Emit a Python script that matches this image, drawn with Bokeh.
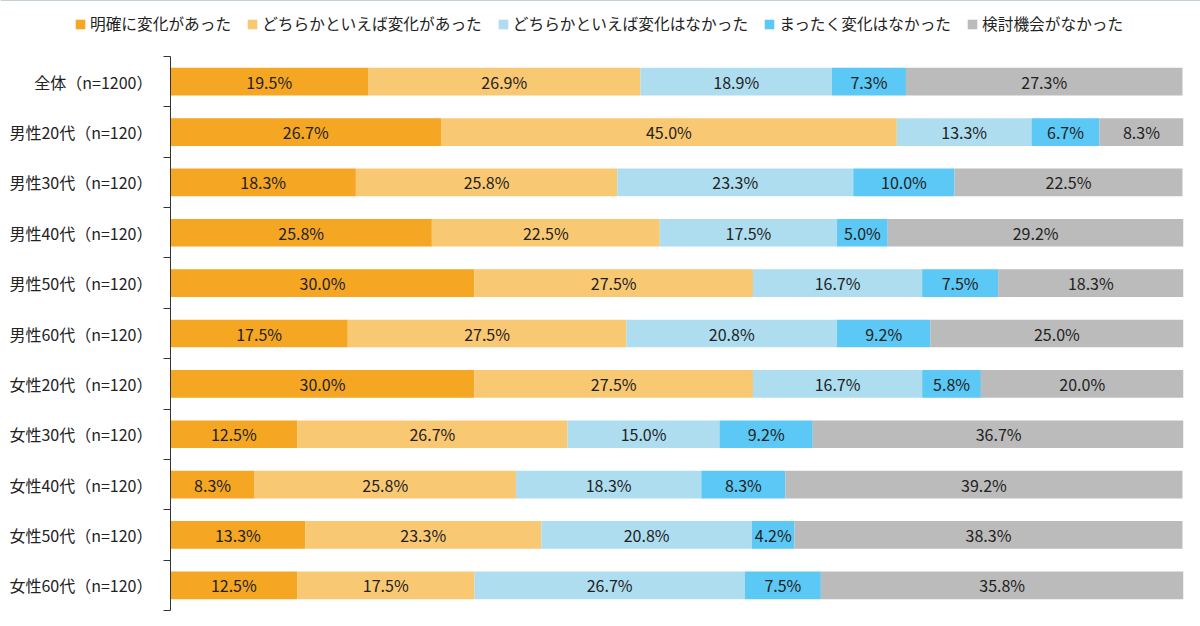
from bokeh.plotting import figure
from bokeh.layouts import column
from bokeh.models import (Range1d, LinearAxis, FixedTicker, ColumnDataSource,
                          Legend, LegendItem, CustomJSTickFormatter)
from bokeh.core.properties import value
from bokeh.embed import file_html
from bokeh.resources import INLINE

FONT = "Noto Sans CJK JP"

groups = ["全体（n=1200）", "男性20代（n=120）", "男性30代（n=120）", "男性40代（n=120）",
          "男性50代（n=120）", "男性60代（n=120）", "女性20代（n=120）", "女性30代（n=120）",
          "女性40代（n=120）", "女性50代（n=120）", "女性60代（n=120）"]

series = ["明確に変化があった", "どちらかといえば変化があった", "どちらかといえば変化はなかった",
          "まったく変化はなかった", "検討機会がなかった"]

clear_change = [19.5, 26.7, 18.3, 25.8, 30.0, 17.5, 30.0, 12.5, 8.3, 13.3, 12.5]
some_change = [26.9, 45.0, 25.8, 22.5, 27.5, 27.5, 27.5, 26.7, 25.8, 23.3, 17.5]
little_change = [18.9, 13.3, 23.3, 17.5, 16.7, 20.8, 16.7, 15.0, 18.3, 20.8, 26.7]
no_change = [7.3, 6.7, 10.0, 5.0, 7.5, 9.2, 5.8, 9.2, 8.3, 4.2, 7.5]
no_chance = [27.3, 8.3, 22.5, 29.2, 18.3, 25.0, 20.0, 36.7, 39.2, 38.3, 35.8]

values = [clear_change, some_change, little_change, no_change, no_chance]
colors = ["#F5A623", "#F9C872", "#ADDDEF", "#5BC8F5", "#BBBBBB"]

n = len(groups)
ys = [i + 0.5 for i in range(n)]

# --- main stacked bar chart ---
p = figure(width=1200, height=570, output_backend="svg", toolbar_location=None,
           x_range=Range1d(0, 100), y_range=Range1d(n, 0),
           x_axis_type=None, y_axis_type=None,
           min_border_left=170, min_border_right=17,
           min_border_top=0, min_border_bottom=16)
p.outline_line_color = None
p.frame_align = False

yaxis = LinearAxis(
    ticker=FixedTicker(ticks=ys, minor_ticks=list(range(n + 1))),
    formatter=CustomJSTickFormatter(args=dict(labels=groups),
                                    code="return labels[Math.floor(tick)];"),
    axis_line_color="#333333",
    major_tick_line_color=None, major_tick_out=0, major_tick_in=0,
    minor_tick_line_color="#333333", minor_tick_out=7, minor_tick_in=0,
    major_label_text_font=FONT, major_label_text_font_size="16px",
    major_label_text_color="#222222", major_label_standoff=11,
)
p.add_layout(yaxis, "left")

left = [0.0] * n
for name, vals, col in zip(series, values, colors):
    right = [l + v for l, v in zip(left, vals)]
    src = ColumnDataSource(dict(
        y=ys, left=left, right=right,
        mid=[(l + r) / 2 for l, r in zip(left, right)],
        label=[f"{v:.1f}%" for v in vals],
    ))
    p.hbar(y="y", left="left", right="right", height=0.55, source=src,
           fill_color=col, line_color=None)
    p.text(x="mid", y="y", text="label", source=src, text_align="center",
           text_baseline="middle", text_font=value(FONT), text_font_size="16px",
           text_color="#222222")
    left = right

# --- legend strip above the chart ---
lg = figure(width=1200, height=56, output_backend="svg", toolbar_location=None,
            x_range=Range1d(0, 1), y_range=Range1d(0, 1),
            x_axis_type=None, y_axis_type=None, min_border=0)
lg.outline_line_color = None
lg.frame_align = False
items = []
for name, col in zip(series, colors):
    # proxy swatch kept outside the visible range; only its legend entry shows
    r = lg.hbar(y=[2], left=[0], right=[1], height=1, fill_color=col, line_color=None)
    items.append(LegendItem(label=name, renderers=[r]))

legend = Legend(items=items, orientation="horizontal", location=(74, 21),
                glyph_width=12, glyph_height=12, label_standoff=4, spacing=15,
                padding=0, margin=0, border_line_color=None,
                background_fill_alpha=0, label_height=20,
                label_text_font=FONT, label_text_font_size="15.7px",
                label_text_color="#222222")
lg.add_layout(legend)

open("out.html", "w").write(file_html(column(lg, p, spacing=0), INLINE))
